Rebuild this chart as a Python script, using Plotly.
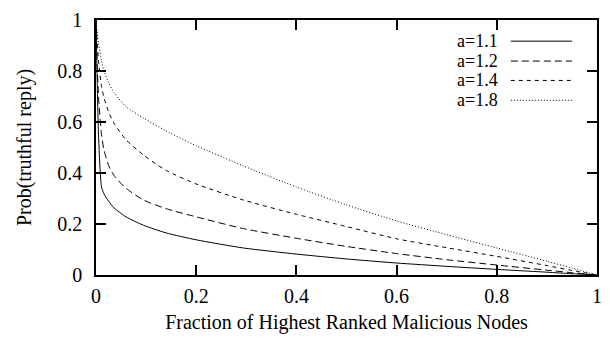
import plotly.graph_objects as go

x_vals = [0.0, 0.002, 0.005, 0.011, 0.016, 0.025, 0.036, 0.06, 0.095, 0.14, 0.2, 0.294, 0.4, 0.5, 0.6, 0.7, 0.8, 0.9, 0.95, 1.0]
y_a11 = [1.0, 0.80, 0.55, 0.345, 0.318, 0.29, 0.263, 0.228, 0.195, 0.165, 0.138, 0.106, 0.082, 0.063, 0.047, 0.034, 0.022, 0.011, 0.005, 0.0]
y_a12 = [1.0, 0.85, 0.70, 0.55, 0.49, 0.43, 0.39, 0.34, 0.294, 0.26, 0.228, 0.182, 0.144, 0.112, 0.084, 0.060, 0.039, 0.019, 0.009, 0.0]
y_a14 = [1.0, 0.92, 0.84, 0.74, 0.695, 0.64, 0.595, 0.53, 0.47, 0.41, 0.357, 0.294, 0.238, 0.19, 0.142, 0.107, 0.073, 0.037, 0.018, 0.0]
y_a18 = [1.0, 0.96, 0.91, 0.84, 0.80, 0.755, 0.715, 0.66, 0.615, 0.565, 0.507, 0.428, 0.345, 0.275, 0.212, 0.158, 0.106, 0.054, 0.027, 0.0]

labels = ["a=1.1", "a=1.2", "a=1.4", "a=1.8"]
series = [y_a11, y_a12, y_a14, y_a18]
dashes = ["solid", "7px,4px", "4px,4px", "1px,2px"]

FONT = "Liberation Serif, Times New Roman, serif"
FS = 20
LEG_FS = 18

fig = go.Figure()
for lab, ys, d in zip(labels, series, dashes):
    fig.add_trace(go.Scatter(x=x_vals, y=ys, mode="lines", name=lab,
                             line=dict(color="black", width=1, dash=d,
                                       shape="spline", smoothing=0.6),
                             showlegend=False))

# gnuplot-style legend: text right-aligned, sample line on the right
leg_y = [0.917, 0.839, 0.763, 0.685]
for lab, d, yy in zip(labels, dashes, leg_y):
    fig.add_annotation(xref="paper", yref="paper", x=0.805, y=yy, text=lab,
                       showarrow=False, xanchor="right", yanchor="middle",
                       borderpad=0,
                       font=dict(family=FONT, size=LEG_FS, color="black"))
    fig.add_shape(type="line", xref="paper", yref="paper",
                  x0=0.828, x1=0.950, y0=yy, y1=yy,
                  line=dict(color="black", width=1, dash=d))

axis_common = dict(
    range=[0, 1], showgrid=False, zeroline=False, showline=True,
    linecolor="black", linewidth=1.5, mirror="allticks",
    ticks="inside", ticklen=10, tickwidth=1.5, tickcolor="black",
    tickvals=[0, 0.2, 0.4, 0.6, 0.8, 1], ticktext=["0", "0.2", "0.4", "0.6", "0.8", "1"],
    tickfont=dict(family=FONT, size=FS, color="black"),
)

fig.update_layout(
    width=611, height=343,
    margin=dict(l=96, r=12, t=9, b=68),
    plot_bgcolor="white", paper_bgcolor="white",
    font=dict(family=FONT, color="black"),
    xaxis=dict(**axis_common, ticklabelstandoff=2,
               title=dict(text="Fraction of Highest Ranked Malicious Nodes",
                          font=dict(family=FONT, size=FS, color="black"), standoff=9)),
    yaxis=dict(**axis_common, ticklabelstandoff=8,
               title=dict(text="Prob(truthful reply)",
                          font=dict(family=FONT, size=FS, color="black"), standoff=20)),
)

fig.write_html("out.html")
